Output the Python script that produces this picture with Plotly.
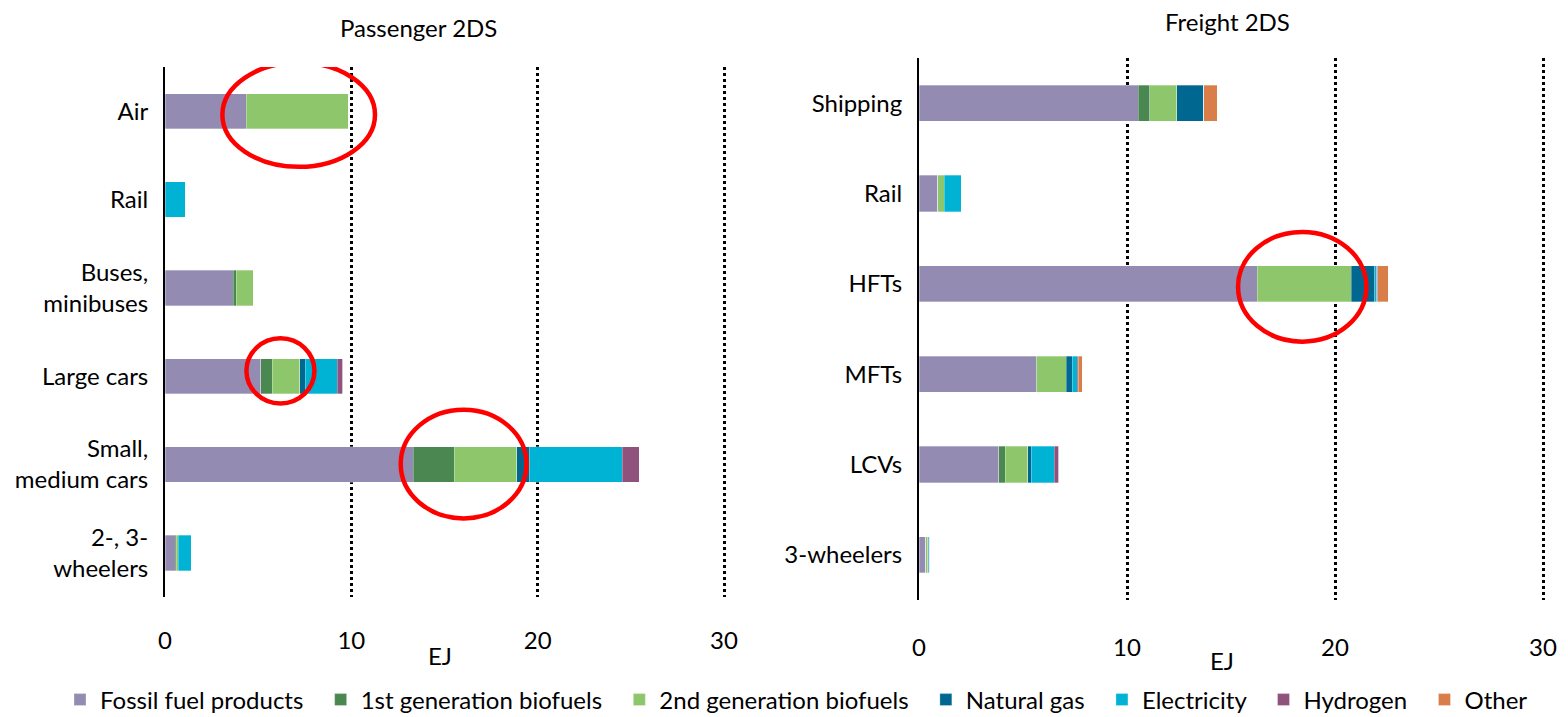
import plotly.graph_objects as go

# ---------------- data ----------------
fuels = ["Fossil fuel products", "1st generation biofuels", "2nd generation biofuels",
         "Natural gas", "Electricity", "Hydrogen", "Other"]
fuel_colors = ["#948BB3", "#4A8751", "#8DC66B", "#006890", "#00B2D3", "#8F527C", "#D97E48"]

passenger_cats = ["Air", "Rail", "Buses,<br>minibuses", "Large cars",
                  "Small,<br>medium cars", "2-, 3-<br>wheelers"]
p_fossil = [4.37, 0.0, 3.67, 5.15, 13.31, 0.56]
p_bio1 = [0.0, 0.0, 0.16, 0.60, 2.20, 0.05]
p_bio2 = [5.50, 0.0, 0.90, 1.48, 3.38, 0.09]
p_gas = [0.0, 0.0, 0.0, 0.29, 0.68, 0.0]
p_elec = [0.0, 1.08, 0.0, 1.73, 4.96, 0.71]
p_h2 = [0.0, 0.0, 0.0, 0.29, 0.91, 0.0]
p_other = [0.0, 0.0, 0.0, 0.0, 0.0, 0.0]

freight_cats = ["Shipping", "Rail", "HFTs", "MFTs", "LCVs", "3-wheelers"]
f_fossil = [10.55, 0.91, 16.26, 5.64, 3.83, 0.32]
f_bio1 = [0.54, 0.0, 0.0, 0.03, 0.32, 0.0]
f_bio2 = [1.30, 0.31, 4.51, 1.40, 1.09, 0.10]
f_gas = [1.30, 0.0, 1.15, 0.30, 0.16, 0.05]
f_elec = [0.0, 0.80, 0.08, 0.24, 1.10, 0.05]
f_h2 = [0.0, 0.0, 0.05, 0.05, 0.21, 0.0]
f_other = [0.65, 0.0, 0.50, 0.20, 0.0, 0.0]

x_ticks = [0, 10, 20, 30]

passenger_series = [p_fossil, p_bio1, p_bio2, p_gas, p_elec, p_h2, p_other]
freight_series = [f_fossil, f_bio1, f_bio2, f_gas, f_elec, f_h2, f_other]

# highlighted regions (x0, x1, category-index y0, y1)
passenger_ellipses = [(3.08, 11.27, -0.55, 0.63), (4.37, 8.02, 2.57, 3.31), (12.65, 19.4, 3.38, 4.61)]
freight_ellipses = [(15.34, 21.51, 1.425, 2.64)]

# ---------------- figure ----------------
FONT = "Lato"
FS = 24
W, H = 1568, 717
XMAX = 30.3  # a little room so the gridline at 30 is drawn


def px(xp):
    return xp / W


def py(yp):
    return 1 - yp / H


def x_end(x0_px, x30_px):
    return x0_px + (x30_px - x0_px) * XMAX / 30


fig = go.Figure()
pad = "\u00a0" * 2
for name, color, vals in zip(fuels, fuel_colors, passenger_series):
    fig.add_trace(go.Bar(y=passenger_cats, x=vals, orientation="h", name=name + pad,
                         marker=dict(color=color, line=dict(color="rgba(255,255,255,0.6)", width=0.5)),
                         legendgroup=name, showlegend=True, xaxis="x", yaxis="y"))
for name, color, vals in zip(fuels, fuel_colors, freight_series):
    fig.add_trace(go.Bar(y=freight_cats, x=vals, orientation="h", name=name + pad,
                         marker=dict(color=color, line=dict(color="rgba(255,255,255,0.6)", width=0.5)),
                         legendgroup=name, showlegend=False, xaxis="x2", yaxis="y2"))


def xaxis_cfg(domain, anchor, standoff):
    return dict(domain=domain, anchor=anchor, range=[0, XMAX], tickvals=x_ticks,
                showgrid=True, gridcolor="black", gridwidth=2.5, griddash="3px,3px",
                zeroline=False, showline=False, ticks="",
                tickfont=dict(family=FONT, size=FS, color="black"),
                ticklabelstandoff=standoff, automargin=False, fixedrange=True)


def yaxis_cfg(domain, anchor, cats):
    return dict(domain=domain, anchor=anchor, type="category", categoryorder="array",
                categoryarray=cats, range=[5.5, -0.5], showgrid=False, zeroline=False,
                showline=True, linecolor="black", linewidth=2, ticks="",
                tickfont=dict(family=FONT, size=FS, color="black"),
                ticklabelstandoff=10, automargin=False, fixedrange=True)


fig.update_layout(
    width=W, height=H,
    margin=dict(l=0, r=0, t=0, b=0, autoexpand=False),
    paper_bgcolor="white", plot_bgcolor="white",
    barmode="stack", bargap=0.6,
    font=dict(family=FONT, size=FS, color="black"),
    xaxis=xaxis_cfg([px(165), px(x_end(165, 724))], "y", 27),
    yaxis=yaxis_cfg([py(597), py(67)], "x", passenger_cats),
    xaxis2=xaxis_cfg([px(919), px(x_end(919, 1543))], "y2", 31),
    yaxis2=yaxis_cfg([py(600), py(58)], "x2", freight_cats),
    legend=dict(orientation="h", x=px(802), xanchor="center", y=py(700), yanchor="middle",
                font=dict(family=FONT, size=FS, color="black"), traceorder="normal",
                itemclick=False, itemdoubleclick=False),
    showlegend=True,
)

annotations = [
    dict(text="Passenger 2DS", x=px(418), y=py(28)),
    dict(text="Freight 2DS", x=px(1227), y=py(21)),
    dict(text="EJ", x=px(440), y=py(655)),
    dict(text="EJ", x=px(1222), y=py(660)),
]
for a in annotations:
    fig.add_annotation(xref="paper", yref="paper", xanchor="center", yanchor="middle",
                       showarrow=False, font=dict(family=FONT, size=FS, color="black"), **a)

for (x0, x1, y0, y1) in passenger_ellipses:
    fig.add_shape(type="circle", xref="x", yref="y", x0=x0, x1=x1, y0=y0, y1=y1,
                  line=dict(color="#FF0000", width=4.5), fillcolor="rgba(0,0,0,0)", layer="above")
for (x0, x1, y0, y1) in freight_ellipses:
    fig.add_shape(type="circle", xref="x2", yref="y2", x0=x0, x1=x1, y0=y0, y1=y1,
                  line=dict(color="#FF0000", width=4.5), fillcolor="rgba(0,0,0,0)", layer="above")

fig.write_html("out.html", config={"displayModeBar": False},
               post_script="document.body.style.margin='0';document.body.style.overflow='hidden';")
